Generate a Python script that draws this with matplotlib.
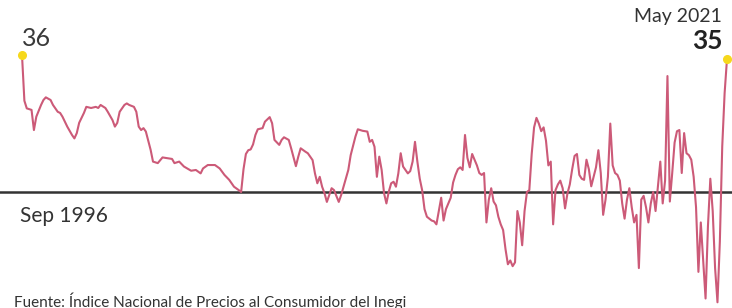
import matplotlib
matplotlib.use("Agg")
import matplotlib.pyplot as plt

# months since Sep 1996 and the value read at each vertex of the line
month_offsets = [
    0, 1, 2, 4, 5, 6, 8, 9, 10, 12, 13, 15, 16, 17, 19, 21, 22, 23, 24, 26,
    27, 29, 31, 32, 33, 35, 36, 38, 39, 40, 41, 43, 44, 45, 47, 48, 49, 50, 51, 52,
    54, 55, 57, 59, 61, 63, 64, 66, 68, 71, 73, 75, 76, 78, 81, 83, 85, 87, 89, 91,
    92, 93, 94, 95, 96, 97, 98, 99, 101, 102, 104, 105, 106, 108, 109, 110, 112, 113, 115, 116,
    117, 119, 120, 122, 123, 124, 125, 126, 127, 128, 130, 131, 133, 134, 136, 137, 138, 140, 141, 143,
    145, 146, 147, 148, 149, 150, 151, 152, 153, 154, 155, 156, 157, 158, 159, 160, 162, 163, 164, 165,
    166, 167, 168, 169, 170, 171, 172, 173, 174, 175, 176, 177, 178, 179, 180, 181, 182, 183, 184, 185,
    186, 187, 188, 189, 190, 191, 192, 193, 194, 195, 196, 197, 198, 199, 200, 201, 202, 203, 204, 205,
    206, 207, 208, 209, 210, 211, 212, 213, 214, 215, 216, 217, 218, 219, 220, 221, 222, 223, 224, 225,
    226, 227, 228, 229, 230, 231, 232, 233, 234, 235, 236, 237, 238, 239, 240, 241, 242, 243, 244, 245,
    246, 247, 248, 249, 250, 251, 252, 253, 254, 255, 256, 257, 258, 259, 260, 261, 262, 263, 264, 265,
    266, 267, 268, 269, 270, 271, 272, 273, 274, 275, 276, 277, 278, 279, 280, 281, 282, 283, 284, 285,
    286, 287, 288, 289, 290, 291, 292, 293, 294, 295, 296,
]
values = [
    36, 24, 22, 21.6, 16.3, 19.8, 22.9, 24.2, 24.9, 24.2, 22.9, 21.1, 20.8, 19.8, 17.2, 15.0, 14.1, 15.5, 18.2, 20.8,
    22.4, 22.1, 22.4, 22.1, 22.9, 22.1, 21.1, 18.9, 17.2, 18.2, 21.1, 22.9, 23.3, 22.9, 22.4, 21.1, 17.2, 16.3, 16.8, 15.9,
    11.1, 8.0, 7.6, 9.1, 8.9, 8.7, 7.6, 8.0, 6.7, 5.6, 5.8, 4.9, 6.2, 7.1, 7.1, 6.2, 4.5, 3.2, 1.4, 0.5,
    0, 6, 10, 11, 11.2, 12.5, 15, 16.5, 16.8, 18.5, 19.7, 18.1, 13.7, 12.4, 13.7, 14.4, 13.7, 11.5, 6.8, 9.3,
    11.5, 10.6, 10.2, 8.4, 4.9, 2.3, 4.0, 1.4, -0.3, -2.6, 1.0, 0.5, -2.6, -0.8, 3.6, 5.8, 9.7, 14.6, 16.5, 16.1,
    15.9, 13.2, 13.7, 11.9, 4.0, 9.3, 5.8, -0.3, -3.0, 0.1, 2.3, 2.7, 1.4, 4.9, 10.2, 6.7, 4.9, 5.5, 8, 13.2,
    8, 3.5, 0.5, -4.5, -6.5, -7, -7.5, -7.7, -8.5, -5, -1.5, -7.5, -4.5, -3, -1.5, 2.5, 4.5, 6, 6.5, 5.8,
    15, 9, 6.5, 10, 8.5, 7, 5, 4.5, 5, -8, -2, 1.0, -2.5, -3.5, -6.5, -8.5, -10, -15, -19, -18,
    -19.5, -18.5, -5, -8, -14, -5, 0, 0.5, 10, 17, 19.5, 18, 16, 17, 13.5, 7, 8, -8.5, 0.5, 2,
    3, 1, -4.3, -0.4, 2, 6, 9.5, 10, 4.5, 3.5, 3.2, 8.5, 6, 1.5, 4, 6.5, 11, 5, -6, -2,
    4, 18, 7, 5, 4.5, 3, -3, -7, -2, 1, -4, -8, -6, -20, -2, -1, -4, -8, -3, 0,
    -5, 1.5, 8, -3, 3, 30.5, -2.5, 5, 13, 16, 16.3, 5, 15.5, 10.2, 9.7, 8.5, 4, -4, -21, -8,
    -18, -28, -9, 3.5, -5, -20, -29, -13, 12, 26, 35,
]
start_label = "Sep 1996"
end_label = "May 2021"
source = "Fuente: Índice Nacional de Precios al Consumidor del Inegi"

plt.rcParams['font.family'] = ['Lato', 'DejaVu Sans']

fig = plt.figure(figsize=(7.32, 3.08), dpi=100)
ax = fig.add_axes([0, 0, 1, 1])
ax.set_axis_off()

ax.axhline(0, color="#333333", lw=1.8, zorder=1)
ax.plot(month_offsets, values, color="#cc5a78", lw=1.5, zorder=2, solid_joinstyle="round")
ax.plot([month_offsets[0], month_offsets[-1]], [values[0], values[-1]], "o",
        color="#f6d81c", markersize=5.5, zorder=3)

ax.set_xlim(-9.24, 298.1)
ax.set_ylim(-30.5, 50.5)

ax.annotate(f"{values[0]:g}", (month_offsets[0], values[0]), xytext=(0, 9),
            textcoords="offset pixels", ha="left", va="baseline",
            fontsize=18, color="#3a3a3a")
ax.annotate(f"{values[-1]:g}", (month_offsets[-1], values[-1]), xytext=(-4, 10),
            textcoords="offset pixels", ha="right", va="baseline",
            fontsize=19, fontweight="bold", color="#222222")
ax.annotate(end_label, (month_offsets[-1], values[-1]), xytext=(-5, 37),
            textcoords="offset pixels", ha="right", va="baseline",
            fontsize=14, color="#333333")
ax.annotate(start_label, (month_offsets[0], 0), xytext=(-2, -30),
            textcoords="offset pixels", ha="left", va="baseline",
            fontsize=15, color="#333333")
fig.text(14 / 732, 1 - 292 / 308, source, ha="left", va="top",
         fontsize=11, color="#333333")

fig.savefig("out.png", dpi=100)
